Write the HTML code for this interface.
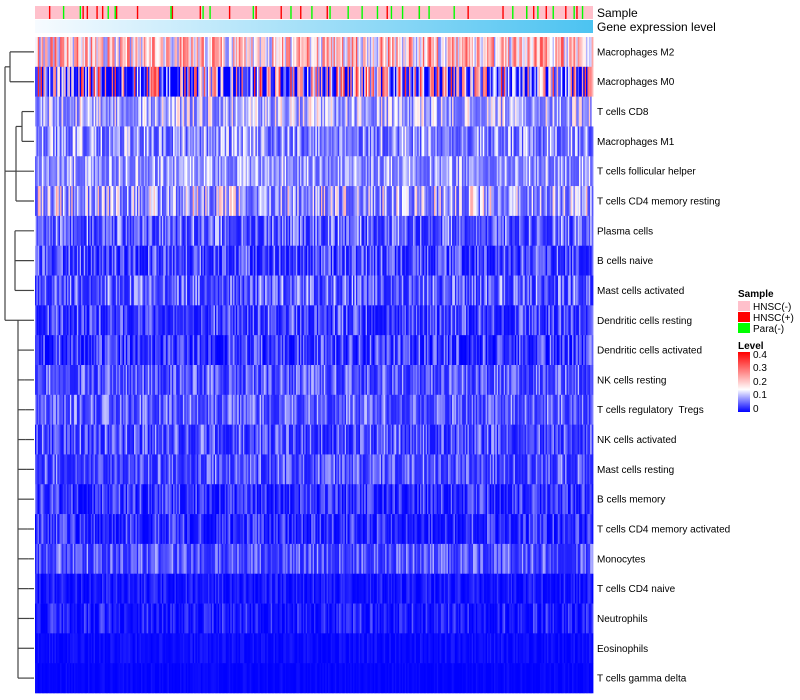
<!DOCTYPE html>
<html><head><meta charset="utf-8"><style>
body{margin:0;background:#fff;width:800px;height:700px;overflow:hidden;font-family:"Liberation Sans",sans-serif}
svg{display:block}
</style></head><body>
<svg id="chart" width="800" height="700" xmlns="http://www.w3.org/2000/svg">
<defs>
<linearGradient id="geneGrad" x1="0" x2="1" y1="0" y2="0"><stop offset="0" stop-color="#f7fbff"/><stop offset="1" stop-color="#4cc3f1"/></linearGradient>
<linearGradient id="levelGrad" x1="0" x2="0" y1="1" y2="0"><stop offset="0" stop-color="#0000ff"/><stop offset="0.375" stop-color="#ffffff"/><stop offset="1" stop-color="#ff0000"/></linearGradient>
</defs>
<g id="dendro" stroke="#444" stroke-width="1.2" fill="none"></g>
<g id="annot"></g>
<g id="cells"></g>
<g id="rowlabels" font-size="10" fill="#000" style="white-space:pre"></g>
<g font-size="10">
<text x="738" y="297" font-weight="bold">Sample</text>
<rect x="738" y="301" width="12" height="10" fill="#ffc0cb"/>
<text x="753" y="310">HNSC(-)</text>
<rect x="738" y="312" width="12" height="10" fill="#ff0000"/>
<text x="753" y="321">HNSC(+)</text>
<rect x="738" y="323" width="12" height="10" fill="#00ff00"/>
<text x="753" y="332">Para(-)</text>
<text x="738" y="349" font-weight="bold">Level</text>
<rect x="738" y="352" width="12" height="60" fill="url(#levelGrad)"/>
<text x="753" y="358">0.4</text>
<text x="753" y="371">0.3</text>
<text x="753" y="385">0.2</text>
<text x="753" y="398">0.1</text>
<text x="753" y="412">0</text>
</g>
<text x="597" y="17" font-size="12">Sample</text>
<text x="597" y="31" font-size="12">Gene expression level</text>
</svg>
<script>
const rowNames=["Macrophages M2","Macrophages M0","T cells CD8","Macrophages M1","T cells follicular helper","T cells CD4 memory resting","Plasma cells","B cells naive","Mast cells activated","Dendritic cells resting","Dendritic cells activated","NK cells resting","T cells regulatory\u00a0\u00a0Tregs","NK cells activated","Mast cells resting","B cells memory","T cells CD4 memory activated","Monocytes","T cells CD4 naive","Neutrophils","Eosinophils","T cells gamma delta"];
const rowMeans=[0.2,0.12,0.1,0.075,0.085,0.1,0.05,0.035,0.05,0.035,0.03,0.045,0.05,0.04,0.045,0.025,0.025,0.045,0.012,0.015,0.006,0.003];
const rowSpread=[0.16,0.3,0.08,0.07,0.06,0.1,0.06,0.05,0.06,0.05,0.05,0.05,0.05,0.05,0.05,0.04,0.04,0.045,0.02,0.03,0.01,0.006];
const redCols=[10,34,37,44,48,58,73,98,118,139,158,176,190,209,252,275,310,335,352,357,366,380,388];
const greenCols=[20,32,52,57,97,120,125,156,183,198,211,224,234,245,255,263,275,282,300,342,352,360,371,386,392];
const nCols=400;
const X0=35,X1=593,Y0=37,Y1=693;
const cw=(X1-X0)/nCols, rh=(Y1-Y0)/rowNames.length;
const NS="http://www.w3.org/2000/svg";
function color(v){v=Math.max(0,Math.min(0.4,v));let r,g,b;
 if(v<0.15){const t=v/0.15;r=Math.round(255*t);g=r;b=255;}else{const t=(v-0.15)/0.25;r=255;g=Math.round(255*(1-t));b=g;}
 return `rgb(${r},${g},${b})`;}
function tex(i,j){let h=(i*374761393+j*668265263)^0x5bd1e995;h=(h^(h>>>13))*1274126177;h=h^(h>>>16);return ((h>>>0)%10000)/10000;}
const cells=document.getElementById('cells');
for(let i=0;i<rowNames.length;i++){
 for(let j=0;j<nCols;j++){
  const u=tex(i,j);
  const shape=i<2?(u-0.5)*1.6:(u*u*2-0.6);
  const v=rowMeans[i]+rowSpread[i]*shape;
  const r=document.createElementNS(NS,'rect');
  r.setAttribute('x',(X0+j*cw).toFixed(2));r.setAttribute('y',(Y0+i*rh).toFixed(2));
  r.setAttribute('width',(cw+0.4).toFixed(2));r.setAttribute('height',(rh+0.3).toFixed(2));
  r.setAttribute('fill',color(v));
  
  
  cells.appendChild(r);
 }
 const t=document.createElementNS(NS,'text');
 t.setAttribute('x',597);t.setAttribute('y',(Y0+(i+0.5)*rh+3.5).toFixed(1));
 t.textContent=rowNames[i];
 
 
 document.getElementById('rowlabels').appendChild(t);
}
const annot=document.getElementById('annot');
const sb=document.createElementNS(NS,'rect');
sb.setAttribute('x',X0);sb.setAttribute('y',6);sb.setAttribute('width',X1-X0);sb.setAttribute('height',13);sb.setAttribute('fill','#ffc0cb');


annot.appendChild(sb);
function stripe(c,col){const r=document.createElementNS(NS,'rect');
 r.setAttribute('x',(X0+c*cw).toFixed(2));r.setAttribute('y',6);r.setAttribute('width',Math.max(1.3,cw).toFixed(2));r.setAttribute('height',13);r.setAttribute('fill',col);
 
 
 annot.appendChild(r);}
redCols.forEach(c=>stripe(c,'#ff0000'));greenCols.forEach(c=>stripe(c,'#00ff00'));
const gb=document.createElementNS(NS,'rect');
gb.setAttribute('x',X0);gb.setAttribute('y',20);gb.setAttribute('width',X1-X0);gb.setAttribute('height',13);gb.setAttribute('fill','url(#geneGrad)');


annot.appendChild(gb);
const dg=document.getElementById('dendro');
const yc=i=>Y0+(i+0.5)*rh;
const segs=[[10,yc(0),34,yc(0)],[10,yc(1),34,yc(1)],[10,yc(0),10,yc(1)],[5,(yc(0)+yc(1))/2,10,(yc(0)+yc(1))/2],[5,(yc(0)+yc(1))/2,5,yc(4)],
[22,yc(2),34,yc(2)],[22,yc(3),34,yc(3)],[22,yc(2),22,yc(3)],[16,yc(2.5),22,yc(2.5)],[16,yc(4),34,yc(4)],[16,yc(5),34,yc(5)],[16,yc(2.5),16,yc(5)],[5,yc(4),16,yc(4)],
[5,yc(4),5,yc(9)],[15,yc(6),34,yc(6)],[15,yc(7),34,yc(7)],[15,yc(6),15,yc(8)],[20,yc(8),34,yc(8)],[18,yc(9),34,yc(9)],[15,yc(8),20,yc(8)],[18,yc(9),18,yc(21)],[5,yc(9),18,yc(9)]];
for(let k=10;k<22;k++){const x=24+Math.min(8,(k-10)*0.6);segs.push([x,yc(k),34,yc(k)]);segs.push([18,yc(k),x,yc(k)]);}
segs.forEach(s=>{const l=document.createElementNS(NS,'line');l.setAttribute('x1',s[0]);l.setAttribute('y1',s[1]);l.setAttribute('x2',s[2]);l.setAttribute('y2',s[3]);
 
 
 dg.appendChild(l);});
</script>
</body></html>
